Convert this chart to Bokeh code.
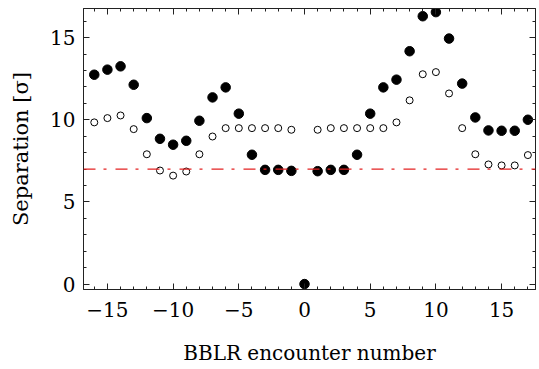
from bokeh.plotting import figure
from bokeh.models import LinearAxis, FixedTicker, Range1d, Span, CustomLabelingPolicy
from bokeh.embed import file_html
from bokeh.resources import INLINE

encounter = list(range(-16, 18))
filled_sep = [12.74, 13.05, 13.25, 12.13, 10.1, 8.84, 8.48, 8.72, 9.94, 11.36, 11.97,
              10.37, 7.87, 6.95, 6.95, 6.89, 0.0, 6.87, 6.95, 6.95, 7.87, 10.37, 11.97,
              12.44, 14.17, 16.3, 16.55, 14.94, 12.2, 10.14, 9.35, 9.33, 9.33, 10.0]
open_x = [x for x in encounter if x != 0]
open_sep = [9.84, 10.1, 10.26, 9.43, 7.9, 6.91, 6.6, 6.85, 7.9, 8.98, 9.49,
            9.49, 9.49, 9.49, 9.49, 9.39, 9.39, 9.49, 9.49, 9.49, 9.49, 9.49,
            9.84, 11.18, 12.77, 12.9, 11.6, 9.49, 7.9, 7.28, 7.22, 7.22, 7.85]
threshold = 7.0
x_major = [-15, -10, -5, 0, 5, 10, 15]
x_minor = list(range(-16, 18))
y_major = [0, 5, 10, 15]
y_minor = list(range(0, 17))

FONT = "DejaVu Serif"

p = figure(width=539, height=369, output_backend="svg", toolbar_location=None,
           x_range=Range1d(-16.82, 17.58), y_range=Range1d(-0.33, 16.77),
           x_axis_label="BBLR encounter number", y_axis_label="Separation [σ]")
p.min_border_left = 83
p.min_border_right = 2
p.min_border_top = 8
p.min_border_bottom = 80
p.grid.visible = False
p.outline_line_color = "#222222"
p.background_fill_color = "white"
p.border_fill_color = "white"

span = Span(location=threshold, dimension="width", line_color="#e32222",
            line_width=1.3, line_dash="12 8 3 9")
p.add_layout(span)

p.scatter(open_x, open_sep, size=7, marker="circle", fill_color="white",
          line_color="black", line_width=1)
p.scatter(encounter, filled_sep, size=9.5, marker="circle", fill_color="black",
          line_color="black")

hide_labels = CustomLabelingPolicy(code="""
try {
  const r = indices.clone();
  for (let i = 0; i < r.size; i++) { r.unset(i) }
  return r
} catch (e) { return indices }
""")

def style(ax, major, minor, labels=True):
    ax.ticker = FixedTicker(ticks=major, minor_ticks=minor)
    ax.major_tick_in = 6
    ax.major_tick_out = 0
    ax.minor_tick_in = 3
    ax.minor_tick_out = 0
    ax.axis_line_color = "#222222"
    ax.major_tick_line_color = "#222222"
    ax.minor_tick_line_color = "#222222"
    if labels:
        ax.major_label_text_font = FONT
        ax.major_label_text_font_size = "20px"
        ax.major_label_text_color = "black"
        ax.axis_label_text_font = FONT
        ax.axis_label_text_font_size = "20px"
        ax.axis_label_text_font_style = "normal"
        ax.axis_label_text_color = "black"
    else:
        ax.major_label_policy = hide_labels
        ax.major_label_text_font_size = "1px"
        ax.major_label_standoff = 0

xa = p.xaxis[0]
style(xa, x_major, x_minor)
xa.major_label_overrides = {-15: "\u221215", -10: "\u221210", -5: "\u22125"}
xa.major_label_standoff = 12
xa.axis_label_standoff = 21

ya = p.yaxis[0]
style(ya, y_major, y_minor)
ya.axis_label_text_font_size = "21px"
ya.major_label_standoff = 8
ya.axis_label_standoff = 14

top = LinearAxis()
style(top, x_major, x_minor, labels=False)
p.add_layout(top, "above")
right = LinearAxis()
style(right, y_major, y_minor, labels=False)
p.add_layout(right, "right")

open("out.html", "w").write(file_html(p, INLINE))
